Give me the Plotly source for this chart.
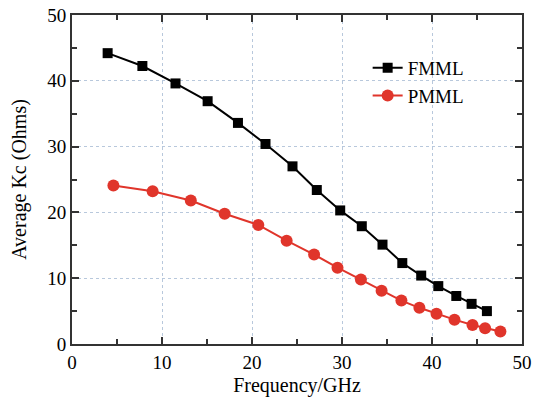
import plotly.graph_objects as go

fmml_x = [3.96, 7.82, 11.5, 15.07, 18.44, 21.5, 24.5, 27.2, 29.8, 32.2, 34.5, 36.7, 38.8, 40.7, 42.7, 44.4, 46.1]
fmml_y = [44.2, 42.25, 39.6, 36.9, 33.6, 30.4, 27.0, 23.4, 20.3, 17.9, 15.1, 12.3, 10.4, 8.8, 7.3, 6.1, 5.0]
pmml_x = [4.6, 8.96, 13.2, 16.96, 20.7, 23.85, 26.9, 29.5, 32.1, 34.4, 36.6, 38.6, 40.5, 42.5, 44.5, 45.9, 47.6]
pmml_y = [24.1, 23.2, 21.8, 19.8, 18.1, 15.7, 13.6, 11.6, 9.8, 8.1, 6.6, 5.5, 4.6, 3.7, 2.9, 2.4, 1.9]
x_ticks = [0, 10, 20, 30, 40, 50]
y_ticks = [0, 10, 20, 30, 40, 50]

FONT = "Liberation Serif"

fig = go.Figure()
fig.add_trace(go.Scatter(x=fmml_x, y=fmml_y, mode="lines+markers", name="FMML",
                         line=dict(color="black", width=2),
                         marker=dict(symbol="square", size=10, color="black")))
fig.add_trace(go.Scatter(x=pmml_x, y=pmml_y, mode="lines+markers", name="PMML",
                         line=dict(color="#e0352b", width=2),
                         marker=dict(symbol="circle", size=12, color="#e0352b")))

axis_common = dict(showline=True, linecolor="#333333", linewidth=2, mirror="ticks",
                   ticks="inside", ticklen=7, tickwidth=2, tickcolor="#333333",
                   showgrid=True, gridcolor="#b8c8dc", griddash="dot", gridwidth=1,
                   zeroline=False, automargin=False,
                   minor=dict(ticks="inside", ticklen=5, tickwidth=2, tickcolor="#333333", dtick=5, showgrid=False),
                   tickfont=dict(family=FONT, size=19, color="black"))

fig.update_xaxes(range=[0, 50], tickvals=x_ticks, ticktext=[str(v) for v in x_ticks],
                 title=dict(text="Frequency/GHz", font=dict(family=FONT, size=20, color="black")),
                 **axis_common)
fig.update_yaxes(range=[0, 50], tickvals=y_ticks, ticktext=[str(v) for v in y_ticks],
                 title=dict(text="Average Kc (Ohms)", font=dict(family=FONT, size=20, color="black")),
                 **axis_common)

fig.update_layout(width=536, height=397, margin=dict(l=72, r=14, t=15, b=53),
                  paper_bgcolor="white", plot_bgcolor="white",
                  legend=dict(x=0.657, y=0.897, xanchor="left", yanchor="top", bgcolor="rgba(0,0,0,0)",
                              font=dict(family=FONT, size=19, color="black")),
                  showlegend=True)

fig.write_html("out.html", config={"displayModeBar": False},
               post_script="document.body.style.margin='0';")
